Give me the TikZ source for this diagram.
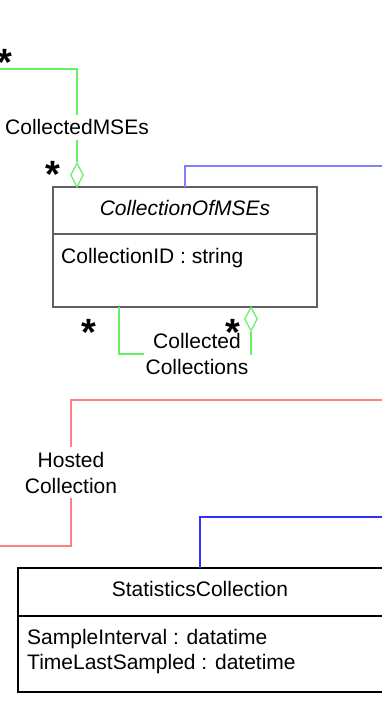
\documentclass[tikz,border=0pt]{standalone}
\usepackage{fontspec}
\setmainfont{Liberation Sans}
\usetikzlibrary{shapes.geometric}
\definecolor{aggr}{HTML}{66F066}
\definecolor{lblue}{HTML}{8080FF}
\definecolor{dblue}{HTML}{3030FF}
\definecolor{hred}{HTML}{FF8080}
\definecolor{boxgray}{HTML}{606060}
\begin{document}
\begin{tikzpicture}[x=1pt,y=-1pt,
  txt/.style={font=\fontsize{21}{26}\selectfont, inner sep=0pt},
  lblw/.style={txt, fill=white, align=center, inner xsep=1.5pt, inner ysep=5pt},
  mult/.style={font=\fontsize{38}{38}\selectfont\bfseries, inner sep=0pt, anchor=base},
  link/.style={line width=1.4pt},
  aggline/.style={link, draw=aggr},
  aggdia/.style={shape=diamond, draw=aggr, line width=1.2pt, fill=white, inner sep=0pt, minimum width=13pt, minimum height=24pt},
  classbox/.style={line width=1.3pt}]
\clip (0,0) rectangle (382,703);
\useasboundingbox (0,0) rectangle (382,703);

% ---- class CollectionOfMSEs
\coordinate (comNW) at (53,187);
\coordinate (comSE) at (317,307);
\draw[classbox, draw=boxgray] (comNW) rectangle (comSE);
\draw[classbox, draw=boxgray] (53,234) -- (317,234);
\node[txt, anchor=base] (comT) at (185,215) {\itshape CollectionOfMSEs};
\node[txt, anchor=base west] (comA) at (61,263) {CollectionID : string};

% ---- class StatisticsCollection
\coordinate (scNW) at (18,568);
\coordinate (scSE) at (383,692);
\draw[classbox, draw=black] (scNW) rectangle (scSE);
\draw[classbox, draw=black] (18,616) -- (383,616);
\node[txt, anchor=base] (scT) at (200,596) {StatisticsCollection};
\node[txt, anchor=base west, align=left] (scA1) at (27,644) {SampleInterval : datatime};
\node[txt, anchor=base west, align=left] (scA2) at (27,669) {TimeLastSampled : datetime};

% ---- CollectedMSEs association
\coordinate (cmE) at (-2,69);
\coordinate (cmC) at (77,69);
\node[aggdia] (d1) at (77,175) {};
\draw[aggline] (cmE) -- (cmC) -- (d1.north);
\node[lblw, anchor=base] (cmL) at (77,135) {CollectedMSEs};
\node[mult] (m1) at (5,76) {*};
\node[mult] (m2) at (53,188) {*};

% ---- CollectedCollections association
\coordinate (ccS) at (119,307);
\coordinate (ccC) at (119,354);
\node[aggdia] (d2) at (251,319) {};
\coordinate (ccD) at (251,354);
\draw[aggline] (ccS) -- (ccC) -- (ccD) -- (d2.south);
\node[lblw, anchor=center, inner ysep=0pt] (ccL) at (197,354) {Collected\\Collections};
\node[mult] (m3) at (89,345) {*};
\node[mult] (m4) at (233,345) {*};

% ---- blue generalisation (top)
\coordinate (b1a) at (185,187);
\coordinate (b1b) at (185,166);
\coordinate (b1c) at (384,166);
\draw[link, draw=lblue] (b1a) -- (b1b) -- (b1c);

% ---- HostedCollection association
\coordinate (hcE) at (384,400);
\coordinate (hcC1) at (71,400);
\coordinate (hcC2) at (71,546);
\coordinate (hcW) at (-2,546);
\draw[link, draw=hred] (hcE) -- (hcC1) -- (hcC2) -- (hcW);
\node[lblw, anchor=center] (hcL) at (71,472.5) {Hosted\\Collection};

% ---- blue generalisation (bottom)
\coordinate (b2a) at (384,517);
\coordinate (b2b) at (200,517);
\draw[link, draw=dblue] (b2a) -- (b2b) -- (b2b |- scNW);
\end{tikzpicture}
\end{document}
